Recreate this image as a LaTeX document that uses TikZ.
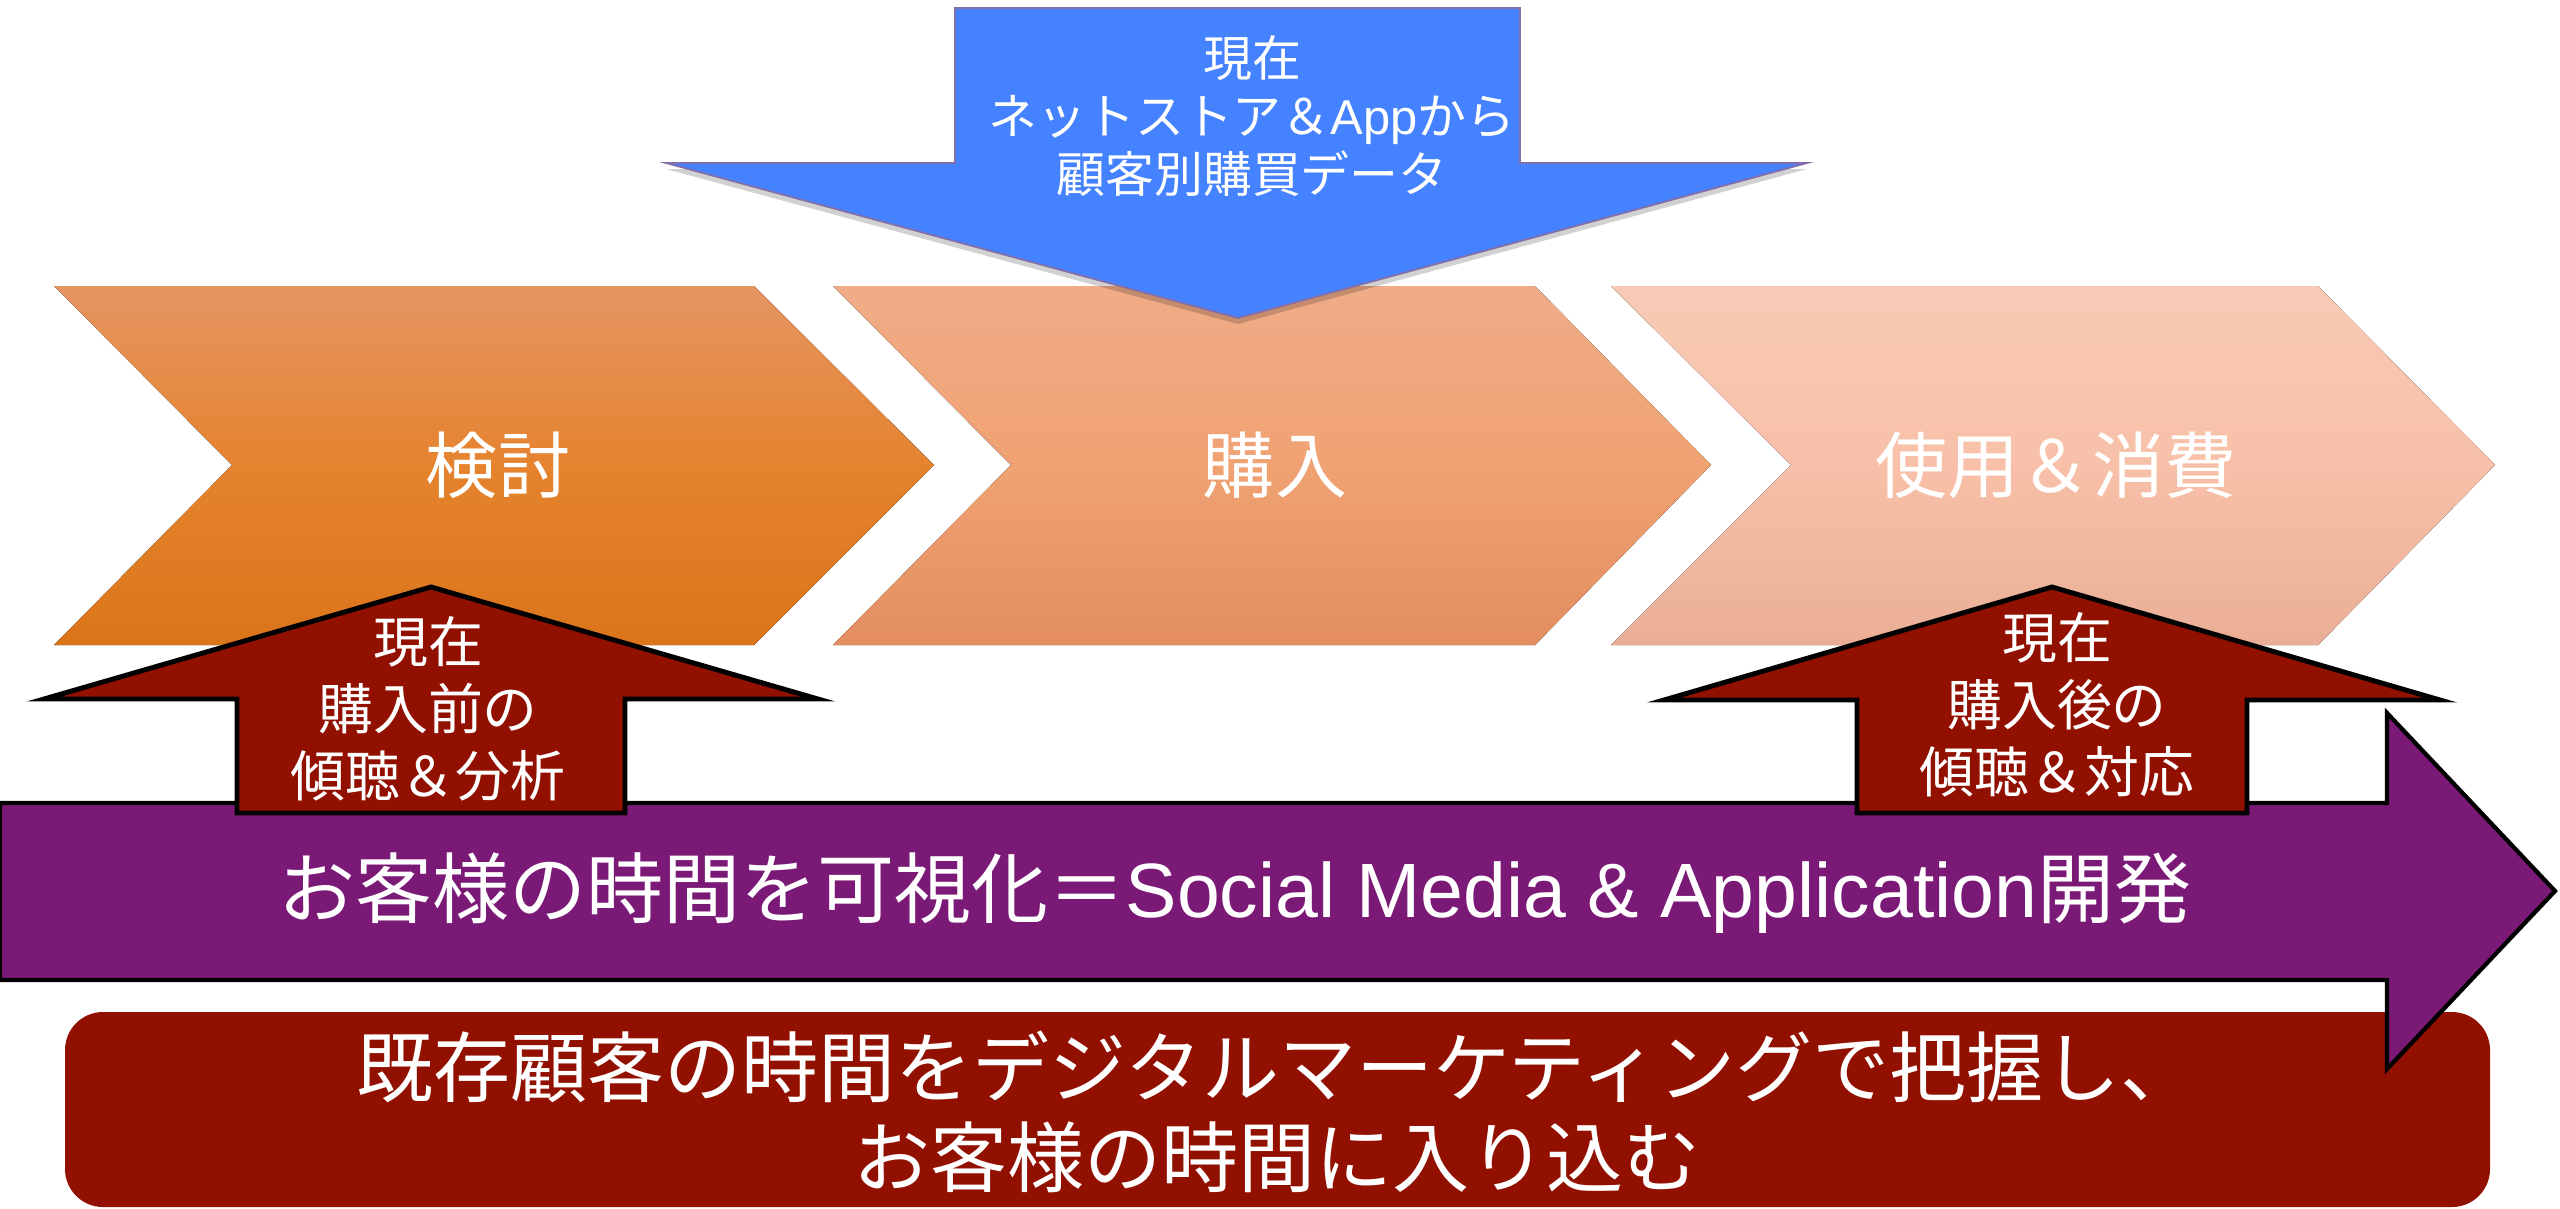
\documentclass[tikz,border=0pt]{standalone}
\usepackage{fontspec}
\setmainfont{Noto Sans CJK JP}
\newfontfamily\lat{Liberation Sans}
\definecolor{chevAa}{RGB}{229,149,99}
\definecolor{chevAb}{RGB}{229,131,46}
\definecolor{chevAc}{RGB}{219,117,26}
\definecolor{chevBa}{RGB}{240,172,136}
\definecolor{chevBb}{RGB}{240,162,114}
\definecolor{chevBc}{RGB}{227,141,96}
\definecolor{chevCa}{RGB}{248,202,181}
\definecolor{chevCb}{RGB}{248,192,168}
\definecolor{chevCc}{RGB}{234,174,150}
\definecolor{blueA}{RGB}{69,130,255}
\definecolor{blueEdge}{RGB}{130,110,170}
\definecolor{redA}{RGB}{146,16,0}
\definecolor{purp}{RGB}{123,26,118}
\tikzset{
  txt/.style={text=white, align=center, inner sep=0pt},
  chevlabel/.style={txt, font=\fontsize{20.5pt}{24pt}\selectfont},
  bluelabel/.style={txt, font=\fontsize{13.9pt}{16.5pt}\selectfont},
  redlabel/.style={txt, font=\fontsize{15.6pt}{19pt}\selectfont},
  biglabel/.style={txt, font=\fontsize{21.9pt}{25.6pt}\selectfont},
  uparrow/.style={fill=redA, draw=black, line width=1.4pt},
}
\begin{document}
\begin{tikzpicture}[x=0.01cm,y=-0.01cm]
\useasboundingbox (0,0) rectangle (2560,1209);
% chevrons
\fill[top color=chevAa, bottom color=chevAc, middle color=chevAb]
  (54,286) -- (754,286) -- (934,465) -- (754,645) -- (54,645) -- (232,465) -- cycle;
\fill[top color=chevBa, bottom color=chevBc, middle color=chevBb]
  (833,286) -- (1535,286) -- (1711,465) -- (1535,645) -- (833,645) -- (1011,465) -- cycle;
\fill[top color=chevCa, bottom color=chevCc, middle color=chevCb]
  (1611,286) -- (2318,286) -- (2495,465) -- (2318,645) -- (1611,645) -- (1791,465) -- cycle;
\node[chevlabel] (kentou) at (498,465) {検討};
\node[chevlabel] (kounyu) at (1275,465) {購入};
\node[chevlabel] (shiyou) at (2056,465) {使用＆消費};
% blue arrow
\fill[black, opacity=0.18] (955,14) -- (1520,14) -- (1520,169) -- (1807,169) -- (1238,324) -- (666,169) -- (955,169) -- cycle;
\draw[fill=blueA, draw=blueEdge, line width=0.5pt]
  (955,8) -- (1520,8) -- (1520,163) -- (1807,163) -- (1238,318) -- (666,163) -- (955,163) -- cycle;
\node[bluelabel] (bluetext) at (1252,116) {現在\\ネットストア＆{\lat App}から\\顧客別購買データ};
% bottom rounded box
\fill[redA, rounded corners=0.38cm] (65,1012) rectangle (2490,1207);
\node[txt, font=\fontsize{21.9pt}{25.6pt}\selectfont] (bottomtext) at (1277,1112)
  {既存顧客の時間をデジタルマーケティングで把握し、\\お客様の時間に入り込む};
% purple arrow
\draw[fill=purp, draw=black, line width=1.2pt]
  (0,803) -- (2387,803) -- (2387,713) -- (2555,891) -- (2387,1069) -- (2387,980) -- (0,980) -- cycle;
\node[biglabel] (purptext) at (1235,893) {お客様の時間を可視化＝{\lat Social Media \& Application}開発};
% red up arrows
\draw[uparrow] (237,813) -- (237,699) -- (44,699) -- (431,587) -- (818,699) -- (625,699) -- (625,813) -- cycle;
\node[redlabel] (lefttext) at (428,709) {現在\\購入前の\\傾聴＆分析};
\draw[uparrow] (1857,813) -- (1857,700) -- (1664,700) -- (2052,587) -- (2440,700) -- (2247,700) -- (2247,813) -- cycle;
\node[redlabel] (righttext) at (2057,705) {現在\\購入後の\\傾聴＆対応};
\end{tikzpicture}
\end{document}
